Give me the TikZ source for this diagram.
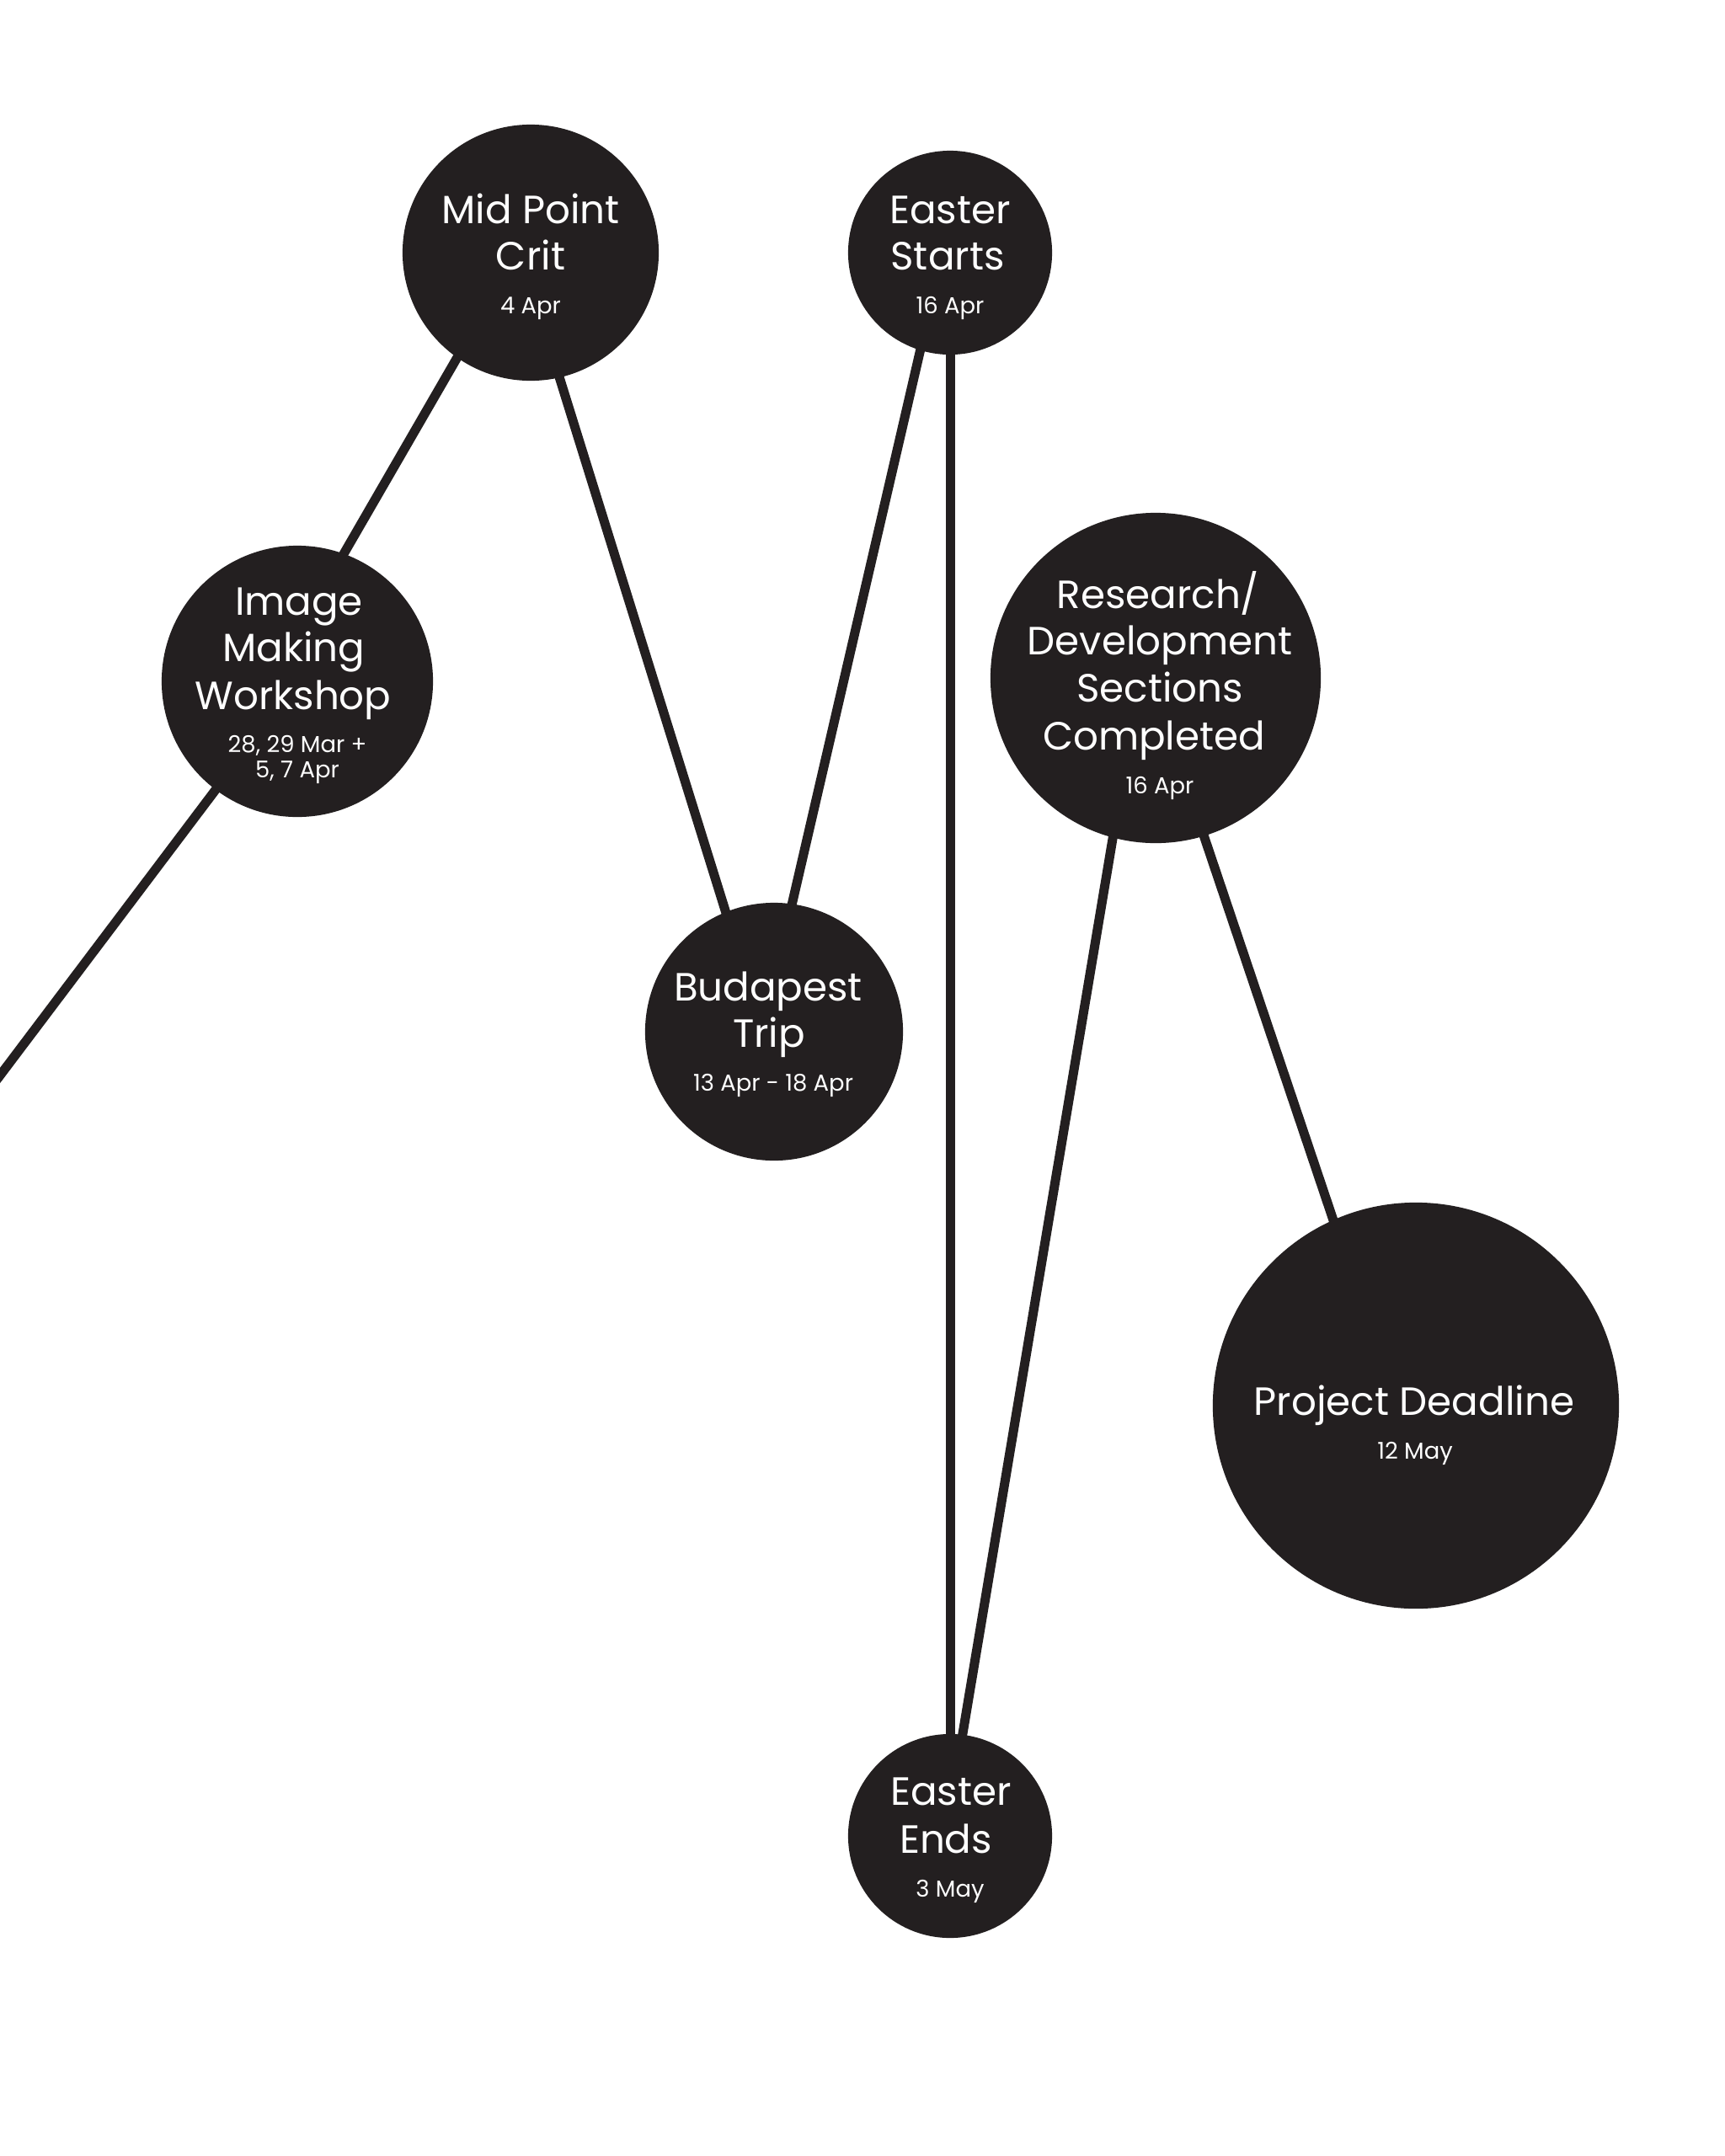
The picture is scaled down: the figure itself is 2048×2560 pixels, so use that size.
\documentclass[tikz,border=0pt]{standalone}
\usepackage{fontspec}
\setmainfont{Poppins}
\usetikzlibrary{backgrounds}
\definecolor{ink}{HTML}{231F20}
\begin{document}
\begin{tikzpicture}[x=0.01cm,y=-0.01cm,
  dot/.style={circle,fill=ink,inner sep=0pt,outer sep=0pt,minimum size=#1},
  link/.style={draw=ink,line width=0.11cm,shorten <=-0.15cm,shorten >=-0.15cm},
  big/.style={text=white,font=\fontsize{13.3}{15.6}\selectfont,anchor=base,inner sep=0pt},
  small/.style={text=white,font=\fontsize{7.8}{9}\selectfont,anchor=base,inner sep=0pt}]
\useasboundingbox (0,0) rectangle (2048,2560);
% circles
\node[dot=3.04cm] (mpc) at (630,300) {};
\node[dot=2.42cm] (es)  at (1128,300) {};
\node[dot=3.22cm] (imw) at (353,809) {};
\node[dot=3.92cm] (rd)  at (1372,805) {};
\node[dot=3.06cm] (bt)  at (919,1225) {};
\node[dot=4.82cm] (pd)  at (1681,1669) {};
\node[dot=2.42cm] (ee)  at (1128,2180) {};
\coordinate (edge) at (0,1277);
% connectors
\begin{scope}[on background layer]
\fill[white] (0,0) rectangle (2048,2560);
\draw[link,shorten <=-0.3cm] (edge) -- (imw.233);
\draw[link] (imw.70) -- (mpc.235);
\draw[link] (mpc.283) -- (bt.112);
\draw[link] (bt.82) -- (es.253);
\draw[link] (es.270) -- (ee.90);
\draw[link] (ee.83) -- (rd.255);
\draw[link] (rd.287) -- (pd.114);
\end{scope}
% texts
\node[big] (mpc1) at (630,265) {Mid Point};
\node[big] (mpc2) at (630,320) {Crit};
\node[small] (mpc3) at (630,372) {4 Apr};
\node[big] (es1) at (1128,265) {Easter};
\node[big] (es2) at (1125,320) {Starts};
\node[small] (es3) at (1128,372) {16 Apr};
\node[big] (imw1) at (355,730) {Image};
\node[big] (imw2) at (349,785) {Making};
\node[big] (imw3) at (348,842) {Workshop};
\node[small] (imw4) at (353,893) {28, 29 Mar +};
\node[small] (imw5) at (353,923) {5, 7 Apr};
\node[big] (rd1) at (1375,722) {Research/};
\node[big] (rd2) at (1377,777) {Development};
\node[big] (rd3) at (1377,833) {Sections};
\node[big] (rd4) at (1370,890) {Completed};
\node[small] (rd5) at (1377,942) {16 Apr};
\node[big] (bt1) at (912,1188) {Budapest};
\node[big] (bt2) at (913,1243) {Trip};
\node[small] (bt3) at (918,1295) {13 Apr - 18 Apr};
\node[big] (pd1) at (1679,1680) {Project Deadline};
\node[small] (pd2) at (1680,1732) {12 May};
\node[big] (ee1) at (1129,2143) {Easter};
\node[big] (ee2) at (1123,2200) {Ends};
\node[small] (ee3) at (1128,2252) {3 May};
\end{tikzpicture}
\end{document}
